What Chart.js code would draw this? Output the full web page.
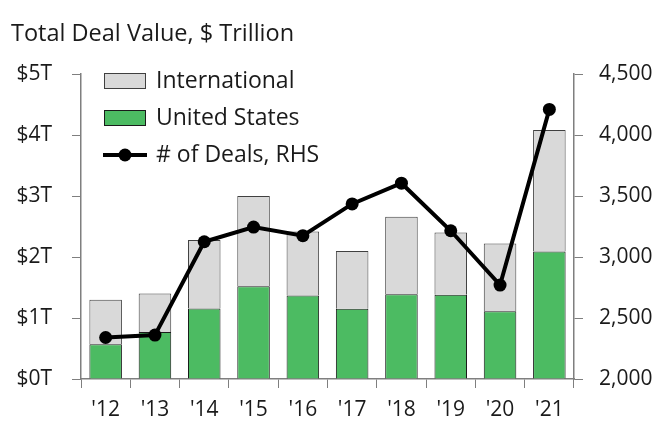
<!DOCTYPE html>
<html>
<head>
<meta charset="utf-8">
<script src="https://cdn.jsdelivr.net/npm/chart.js@4"></script>
<style>
  html, body { margin: 0; padding: 0; background: #fff; }
  #wrap { width: 661px; height: 425px; position: relative; }
</style>
</head>
<body>
<div id="wrap"><canvas id="deals"></canvas></div>
<script>
// data
var years = ["'12", "'13", "'14", "'15", "'16", "'17", "'18", "'19", "'20", "'21"];
var usValues = [0.57, 0.77, 1.155, 1.52, 1.37, 1.15, 1.39, 1.38, 1.11, 2.09];
var intlValues = [0.73, 0.63, 1.125, 1.48, 1.05, 0.95, 1.27, 1.02, 1.11, 1.99];
var dealCounts = [2340, 2360, 3125, 3245, 3175, 3435, 3605, 3215, 2770, 4210];

var FONT = "'Open Sans', sans-serif";
var AXIS = '#7f7f7f';
var GREEN = '#4cbb62';
var GREY = '#d9d9d9';

// title + legend drawn by hand, the legend sits inside the plot
var overlay = {
  id: 'overlay',
  afterDraw: function (chart) {
    var ctx = chart.ctx;
    ctx.save();
    ctx.fillStyle = '#1a1a1a';
    ctx.font = '23.5px ' + FONT;
    ctx.textBaseline = 'middle';
    ctx.textAlign = 'left';
    ctx.fillText('Total Deal Value, $ Trillion', 11, 34);

    var items = [
      { text: 'International', fill: GREY, stroke: '#404040' },
      { text: 'United States', fill: GREEN, stroke: '#1a1a1a' },
      { text: '# of Deals, RHS', line: true }
    ];
    var y = 81;
    items.forEach(function (it) {
      if (it.line) {
        ctx.strokeStyle = '#000';
        ctx.lineWidth = 4;
        ctx.beginPath();
        ctx.moveTo(103, y);
        ctx.lineTo(147, y);
        ctx.stroke();
        ctx.fillStyle = '#000';
        ctx.beginPath();
        ctx.arc(125, y, 6.5, 0, Math.PI * 2);
        ctx.fill();
      } else {
        ctx.fillStyle = it.fill;
        ctx.fillRect(104, y - 7.5, 41, 15);
        ctx.strokeStyle = it.stroke;
        ctx.lineWidth = 1;
        ctx.strokeRect(104.5, y - 7.5, 41, 15);
      }
      ctx.fillStyle = '#1a1a1a';
      ctx.font = '23px ' + FONT;
      ctx.fillText(it.text, 156, y);
      y += 37;
    });
    ctx.restore();
  }
};

new Chart(document.getElementById('deals'), {
  type: 'bar',
  data: {
    labels: years,
    datasets: [
      {
        label: 'United States',
        data: usValues,
        backgroundColor: GREEN,
        borderColor: '#1a1a1a',
        borderWidth: 1,
        yAxisID: 'y',
        stack: 'value',
        order: 1,
        barPercentage: 0.66,
        categoryPercentage: 1
      },
      {
        label: 'International',
        data: intlValues,
        backgroundColor: GREY,
        borderColor: '#404040',
        borderWidth: 1,
        yAxisID: 'y',
        stack: 'value',
        order: 1,
        barPercentage: 0.66,
        categoryPercentage: 1
      },
      {
        type: 'line',
        label: '# of Deals, RHS',
        data: dealCounts,
        yAxisID: 'y1',
        borderColor: '#000',
        backgroundColor: '#000',
        borderWidth: 4,
        pointRadius: 6.5,
        pointBackgroundColor: '#000',
        pointBorderWidth: 0,
        tension: 0,
        order: 0
      }
    ]
  },
  options: {
    responsive: true,
    maintainAspectRatio: false,
    animation: false,
    layout: { padding: { top: 74, left: 0, right: 0, bottom: 0 } },
    plugins: {
      legend: { display: false },
      title: { display: false },
      tooltip: { enabled: false }
    },
    scales: {
      x: {
        stacked: true,
        grid: { drawOnChartArea: false, color: AXIS, tickLength: 9, offset: true },
        border: { color: AXIS, width: 1.5 },
        ticks: { color: '#1a1a1a', font: { family: FONT, size: 21 }, padding: 9 },
        afterFit: function (s) { s.height = 46; }
      },
      y: {
        stacked: true,
        position: 'left',
        min: 0,
        max: 5,
        grid: { drawOnChartArea: false, color: AXIS, tickLength: 9 },
        border: { color: AXIS, width: 1.5 },
        ticks: {
          stepSize: 1,
          color: '#1a1a1a',
          font: { family: FONT, size: 21 },
          padding: 20,
          callback: function (v) { return '$' + v + 'T'; }
        },
        afterFit: function (s) { s.width = 81; }
      },
      y1: {
        position: 'right',
        min: 2000,
        max: 4500,
        grid: { drawOnChartArea: false, color: AXIS, tickLength: 9 },
        border: { color: AXIS, width: 1.5 },
        ticks: {
          stepSize: 500,
          color: '#1a1a1a',
          font: { family: FONT, size: 21 },
          padding: 16,
          callback: function (v) { return v.toLocaleString('en-US'); }
        },
        afterFit: function (s) { s.width = 87; }
      }
    }
  },
  plugins: [overlay]
});
</script>
</body>
</html>
